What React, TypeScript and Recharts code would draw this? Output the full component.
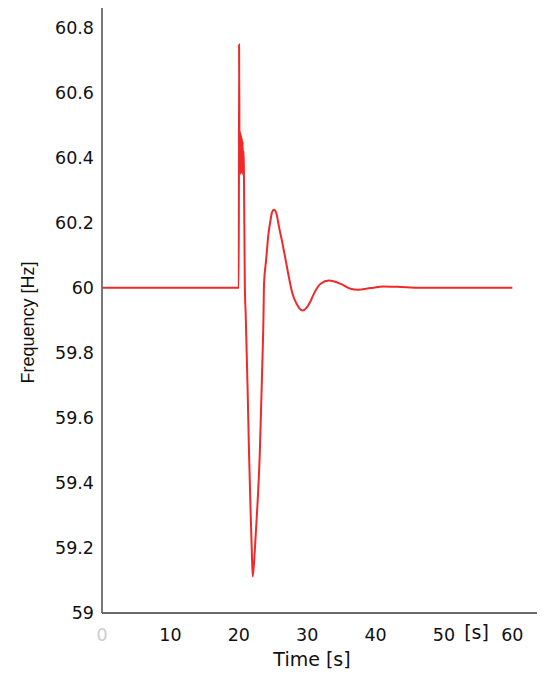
import React from "react";
import { LineChart, Line, XAxis, YAxis, Label } from "recharts";

// Time [s]
const times: number[] = [
  0, 20.0, 20.04, 20.1, 20.14, 20.2, 20.26, 20.32, 20.38, 20.44, 20.5, 20.56, 20.62,
  20.68, 20.74, 20.88, 21.02, 21.27, 21.5, 21.75, 21.9, 22.04, 22.34, 22.63, 23.07,
  23.36, 23.61, 23.69, 23.99, 24.34, 24.63, 24.85, 25.15, 25.5, 25.88, 26.4, 26.86,
  27.35, 27.84, 28.47, 29.3, 29.93, 30.45, 30.99, 31.97, 33.18, 34.89, 36.35, 37.37,
  39.27, 41.17, 43.2, 46.57, 60,
];

// Frequency [Hz]
const freqs: number[] = [
  60, 60, 60.748, 60.45, 60.36, 60.48, 60.35, 60.47, 60.36, 60.46, 60.35, 60.45, 60.36,
  60.42, 60.38, 60.012, 59.911, 59.705, 59.49, 59.296, 59.192, 59.112, 59.192, 59.296,
  59.49, 59.705, 59.911, 60.012, 60.084, 60.166, 60.206, 60.232, 60.24, 60.228, 60.187,
  60.135, 60.084, 60.03, 59.982, 59.95, 59.93, 59.939, 59.957, 59.982, 60.012, 60.022,
  60.012, 59.997, 59.994, 59.999, 60.004, 60.003, 60, 60,
];

const xTicks: number[] = [0, 10, 20, 30, 40, 50, 60];
const yTicks: number[] = [59, 59.2, 59.4, 59.6, 59.8, 60, 60.2, 60.4, 60.6, 60.8];

const data = times.map((t, i) => ({ t, f: freqs[i] }));

const TICK_FONT = "'DejaVu Sans', sans-serif";

const XTick = (props: any) => {
  const { x, y, payload } = props;
  return (
    <text
      x={x}
      y={y}
      dy={20}
      textAnchor="middle"
      fill={payload.value === 0 ? "#cdcdcd" : "#111"}
      fontSize={17.5}
      fontFamily={TICK_FONT}
    >
      {payload.value}
    </text>
  );
};

const YTick = (props: any) => {
  const { x, y, payload } = props;
  return (
    <text
      x={x}
      y={y}
      dy={6}
      textAnchor="end"
      fill="#111"
      fontSize={17.5}
      fontFamily={TICK_FONT}
    >
      {payload.value}
    </text>
  );
};

export default function App() {
  return (
    <div style={{ position: "absolute", left: 0, top: 0, background: "#fff" }}>
      <LineChart
        width={550}
        height={681}
        data={data}
        margin={{ top: 8, right: 13, bottom: 0, left: 0 }}
      >
        <XAxis
          type="number"
          dataKey="t"
          domain={[0, 63.6]}
          ticks={xTicks}
          allowDataOverflow
          height={68}
          tickLine={false}
          axisLine={{ stroke: "#6a6a6a", strokeWidth: 1.8 }}
          tick={<XTick />}
        >
          <Label
            value="Time [s]"
            position="insideBottom"
            offset={15}
            dx={-7.5}
            fill="#111"
            fontSize={19}
            fontFamily={TICK_FONT}
          />
          <Label
            value="[s]"
            position="insideTop"
            offset={12.5}
            dx={157}
            fill="#111"
            fontSize={19}
            fontFamily={TICK_FONT}
          />
        </XAxis>
        <YAxis
          type="number"
          domain={[59, 60.86]}
          ticks={yTicks}
          allowDataOverflow
          width={102}
          tickLine={false}
          axisLine={{ stroke: "#6a6a6a", strokeWidth: 1.8 }}
          tick={<YTick />}
        >
          <Label
            value="Frequency [Hz]"
            angle={-90}
            position="center"
            dx={-23}
            dy={12}
            fill="#111"
            fontSize={18}
            fontFamily="'Liberation Sans', Arial, sans-serif"
          />
        </YAxis>
        <Line
          type="monotoneX"
          dataKey="f"
          stroke="#ee2a2a"
          strokeWidth={2}
          dot={false}
          isAnimationActive={false}
        />
      </LineChart>
    </div>
  );
}
